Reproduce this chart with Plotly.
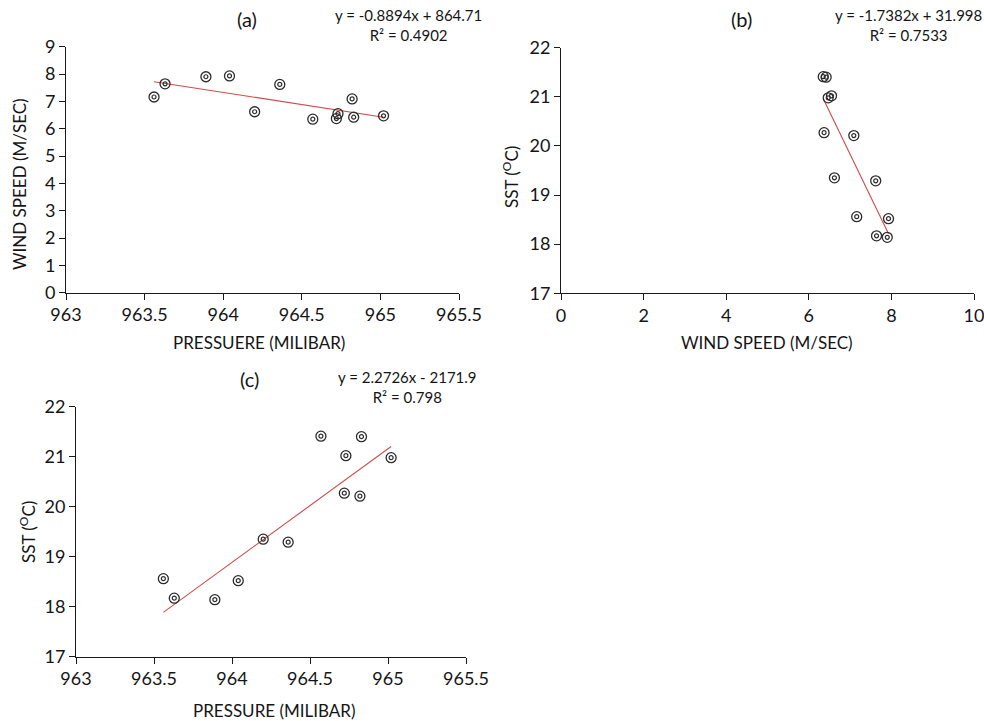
import plotly.graph_objects as go

# Observations: surface pressure, wind speed and sea surface temperature
pressure = [963.56, 963.63, 963.89, 964.04, 964.20, 964.36, 964.57, 964.72, 964.73, 964.82, 964.83, 965.02]
wind_speed = [7.16, 7.64, 7.90, 7.93, 6.62, 7.62, 6.35, 6.37, 6.55, 7.09, 6.42, 6.47]
sst = [18.56, 18.17, 18.14, 18.52, 19.35, 19.29, 21.41, 20.27, 21.02, 20.21, 21.40, 20.98]

# Linear trend lines (slope, intercept) and their R² values
fit_a = (-0.8894, 864.71)
fit_b = (-1.7382, 31.998)
fit_c = (2.2726, -2171.9)
r2_a, r2_b, r2_c = 0.4902, 0.7533, 0.798

panel_titles = ["(a)", "(b)", "(c)"]

W, H = 984, 721
FONT = "Lato"
INK = "#2b2b2b"
TEXT = "#151515"
TREND = "#cf4a4a"


def fx(px):
    return px / W


def fy(py):
    return 1 - py / H


fig = go.Figure()

panels = [
    # (x data, y data, fit, r2, xaxis name, yaxis name)
    (pressure, wind_speed, fit_a, r2_a, "x", "y"),
    (wind_speed, sst, fit_b, r2_b, "x2", "y2"),
    (pressure, sst, fit_c, r2_c, "x3", "y3"),
]

for xs, ys, (m, b), r2, xa, ya in panels:
    x0, x1 = min(xs), max(xs)
    fig.add_trace(go.Scatter(
        x=[x0, x1], y=[m * x0 + b, m * x1 + b], mode="lines",
        line=dict(color=TREND, width=1.1), xaxis=xa, yaxis=ya,
        showlegend=False, hoverinfo="skip"))
    fig.add_trace(go.Scatter(
        x=xs, y=ys, mode="markers", xaxis=xa, yaxis=ya, showlegend=False,
        marker=dict(symbol="circle-open", size=10, color=INK, line=dict(width=1.3))))
    fig.add_trace(go.Scatter(
        x=xs, y=ys, mode="markers", xaxis=xa, yaxis=ya, showlegend=False,
        marker=dict(symbol="circle-open", size=4, color=INK, line=dict(width=1.2))))

axis_common = dict(
    showgrid=False, zeroline=False, showline=True, linecolor="#1a1a1a",
    linewidth=1, ticks="outside", ticklen=6, tickcolor="#1a1a1a",
    automargin=False, ticklabeloverflow="allow",
    tickfont=dict(family=FONT, size=18, color=TEXT),
)

fig.update_layout(
    width=W, height=H, margin=dict(l=0, r=0, t=0, b=0),
    paper_bgcolor="white", plot_bgcolor="white",
    xaxis=dict(domain=[fx(66), fx(459)], range=[963, 965.5], dtick=0.5,
               anchor="y", **axis_common),
    yaxis=dict(domain=[fy(292.7), fy(46.7)], range=[0, 9], dtick=1,
               anchor="x", **axis_common),
    xaxis2=dict(domain=[fx(561), fx(974)], range=[0, 10], dtick=2,
                anchor="y2", **axis_common),
    yaxis2=dict(domain=[fy(293.3), fy(47.7)], range=[17, 22], dtick=1,
                anchor="x2", **axis_common),
    xaxis3=dict(domain=[fx(76), fx(466)], range=[963, 965.5], dtick=0.5,
                anchor="y3", **axis_common),
    yaxis3=dict(domain=[fy(656.7), fy(406.7)], range=[17, 22], dtick=1,
                anchor="x3", **axis_common),
)


def label(text, px, py, size, angle=0):
    fig.add_annotation(
        text=text, x=fx(px), y=fy(py), xref="paper", yref="paper",
        showarrow=False, textangle=angle, xanchor="center", yanchor="middle",
        font=dict(family=FONT, size=size, color=TEXT), align="center")


def eq_text(m, b, r2):
    sign = "+" if b >= 0 else "-"
    return f"y = {m:g}x {sign} {abs(b):g}<br>R² = {r2:g}"


# Panel titles
label(panel_titles[0], 247, 19, 20)
label(panel_titles[1], 741, 19, 20)
label(panel_titles[2], 249, 379, 20)

# Trend-line equations
label(eq_text(*fit_a, r2_a), 408, 25, 15)
label(eq_text(*fit_b, r2_b), 908, 25, 15)
label(eq_text(*fit_c, r2_c), 407, 387, 15)

# Axis titles
label("PRESSUERE (MILIBAR)", 259, 342, 17)
label("WIND SPEED (M/SEC)", 19, 184, 17, -90)
label("WIND SPEED (M/SEC)", 767, 342, 17)
label("SST (<sup>O</sup>C)", 510, 177, 17, -90)
label("PRESSURE (MILIBAR)", 274, 710, 17)
label("SST (<sup>O</sup>C)", 27, 532, 17, -90)

fig.write_html("out.html")
